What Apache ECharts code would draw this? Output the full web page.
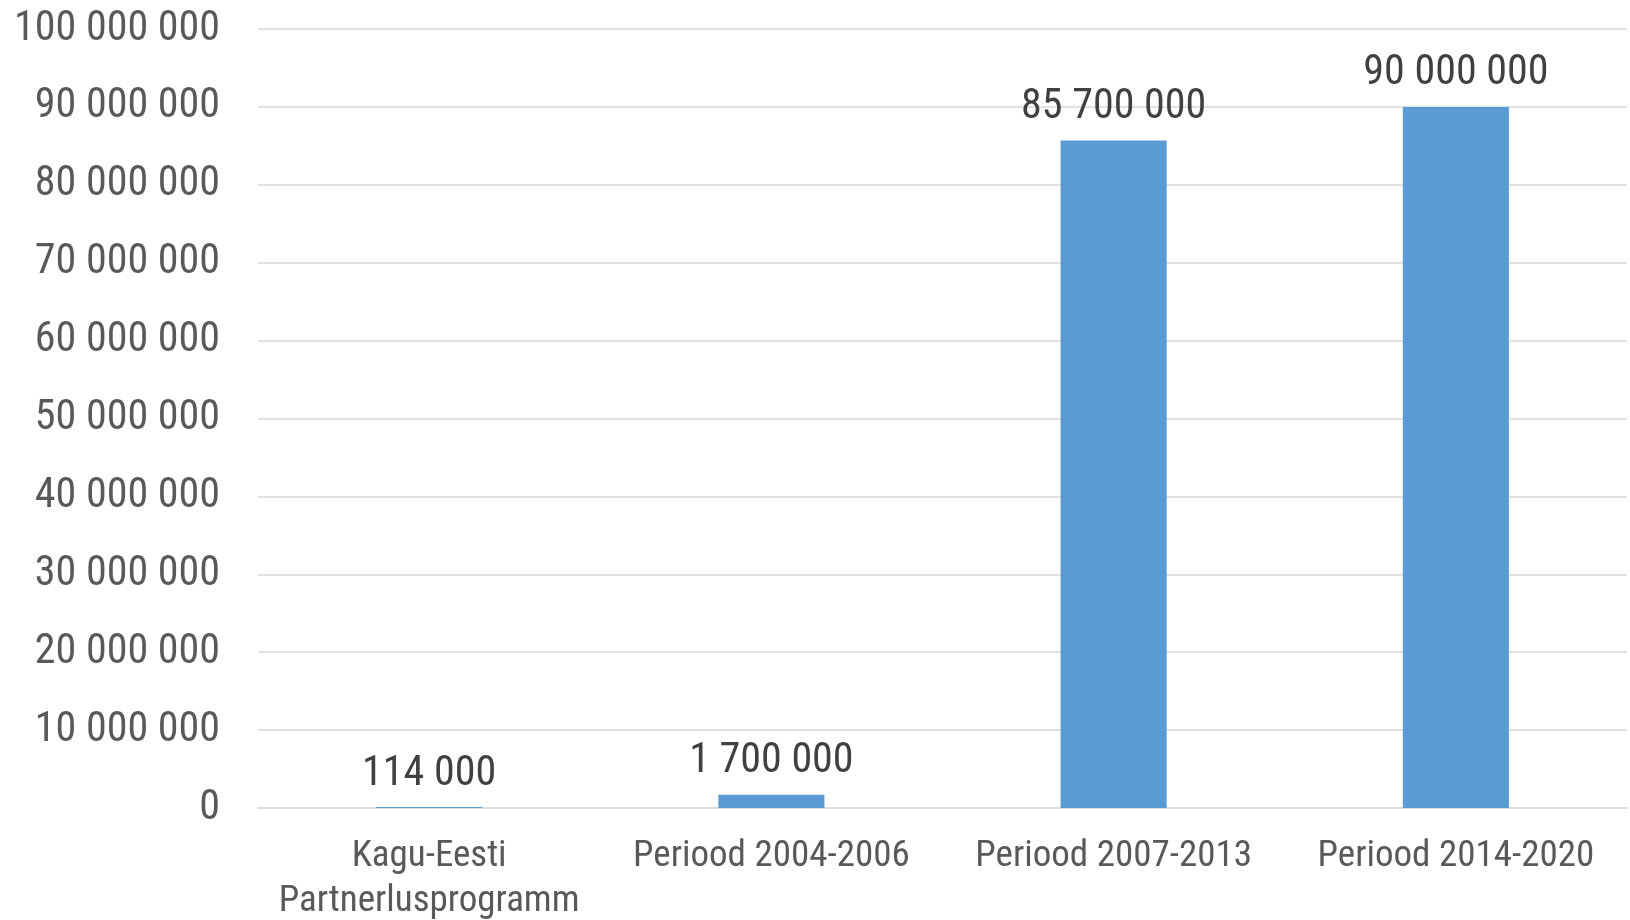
<!DOCTYPE html>
<html>
<head>
<meta charset="utf-8">
<script src="https://cdn.jsdelivr.net/npm/echarts@6/dist/echarts.min.js"></script>
<style>
html,body{margin:0;padding:0;background:#fff;}
#c{width:1630px;height:920px;}
</style>
</head>
<body>
<div id="c"></div>
<script>
const categories = ['Kagu-Eesti\nPartnerlusprogramm', 'Periood 2004-2006', 'Periood 2007-2013', 'Periood 2014-2020'];
const values = [114000, 1700000, 85700000, 90000000];
const yMin = 0;
const yMax = 100000000;
const yInterval = 10000000;

function fmt(v) {
  return String(Math.round(v)).replace(/\B(?=(\d{3})+(?!\d))/g, ' ');
}

const FONT = "'Roboto Condensed', Roboto, sans-serif";
const chart = echarts.init(document.getElementById('c'));
chart.setOption({
  animation: false,
  backgroundColor: '#ffffff',
  grid: { left: 258, right: 3, top: 29, bottom: 112, containLabel: false, outerBoundsMode: 'none' },
  xAxis: {
    type: 'category',
    data: categories,
    axisLine: { show: true, lineStyle: { color: '#D9D9D9', width: 1.5 } },
    axisTick: { show: false },
    axisLabel: {
      color: '#595959',
      fontFamily: FONT,
      fontSize: 37,
      lineHeight: 45,
      margin: 26,
      interval: 0
    }
  },
  yAxis: {
    type: 'value',
    min: yMin,
    max: yMax,
    interval: yInterval,
    axisLine: { show: false },
    axisTick: { show: false },
    splitLine: { show: true, lineStyle: { color: '#D9D9D9', width: 1.5 } },
    axisLabel: {
      color: '#595959',
      fontFamily: FONT,
      fontSize: 42,
      margin: 38,
      formatter: fmt
    }
  },
  series: [{
    type: 'bar',
    data: values,
    barWidth: '31%',
    itemStyle: { color: '#5B9BD5' },
    label: {
      show: true,
      position: 'top',
      distance: 12,
      color: '#404040',
      fontFamily: FONT,
      fontSize: 42,
      formatter: p => fmt(p.value)
    }
  }]
});
</script>
</body>
</html>
